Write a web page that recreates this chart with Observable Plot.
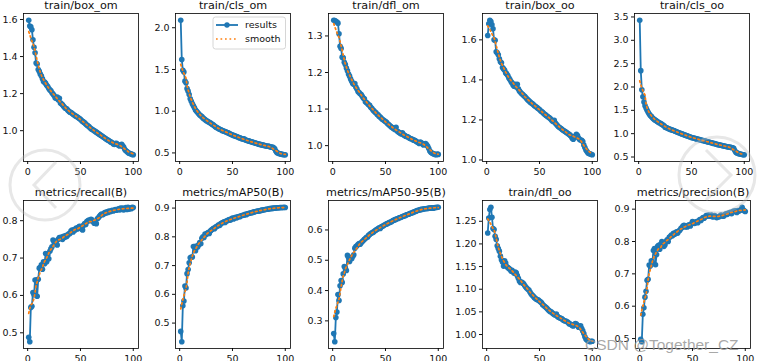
<!DOCTYPE html>
<html>
<head>
<meta charset="utf-8">
<script src="https://cdn.jsdelivr.net/npm/d3@7"></script>
<script src="https://cdn.jsdelivr.net/npm/@observablehq/plot@0.6"></script>
<style>
  html, body { margin: 0; padding: 0; background: #fff; overflow: hidden; }
  #fig { position: relative; width: 757px; height: 361px; overflow: hidden; background: #fff; }
  #fig > svg, #fig > div { position: absolute; }
</style>
</head>
<body>
<div id="fig"></div>
<script>
// ---------- data ----------
const epochs = d3.range(1, 101);
const xTicks = [0, 50, 100];

const titles = ["train/box_om", "train/cls_om", "train/dfl_om", "train/box_oo", "train/cls_oo",
  "metrics/recall(B)", "metrics/mAP50(B)", "metrics/mAP50-95(B)", "train/dfl_oo", "metrics/precision(B)"];

const boxOm = [1.596,1.565,1.560,1.545,1.490,1.450,1.420,1.365,1.360,1.330,
1.320,1.305,1.295,1.280,1.265,1.262,1.255,1.245,1.238,1.228,
1.220,1.215,1.205,1.198,1.190,1.178,1.175,1.182,1.165,1.175,
1.150,1.145,1.140,1.132,1.125,1.120,1.118,1.110,1.105,1.100,
1.098,1.094,1.088,1.084,1.080,1.078,1.074,1.070,1.066,1.062,
1.055,1.050,1.046,1.042,1.036,1.030,1.026,1.022,1.016,1.010,
1.008,1.004,1.000,0.996,0.992,0.988,0.984,0.980,0.976,0.972,
0.968,0.964,0.960,0.956,0.952,0.950,0.946,0.942,0.938,0.935,
0.930,0.926,0.930,0.932,0.926,0.922,0.918,0.924,0.926,0.918,
0.910,0.898,0.892,0.888,0.882,0.878,0.876,0.874,0.872,0.870];

const clsOm = [2.09,1.62,1.49,1.47,1.36,1.34,1.27,1.24,1.20,1.15,
1.12,1.09,1.065,1.04,1.015,1.00,0.985,0.97,0.955,0.945,
0.935,0.92,0.91,0.90,0.888,0.882,0.873,0.868,0.86,0.85,
0.842,0.835,0.822,0.812,0.805,0.798,0.79,0.783,0.777,0.77,
0.765,0.76,0.755,0.75,0.745,0.74,0.733,0.727,0.721,0.715,
0.71,0.705,0.70,0.695,0.69,0.685,0.68,0.675,0.67,0.665,
0.668,0.658,0.652,0.648,0.645,0.641,0.637,0.633,0.629,0.625,
0.621,0.617,0.613,0.609,0.605,0.602,0.599,0.596,0.593,0.59,
0.587,0.584,0.58,0.582,0.576,0.573,0.568,0.57,0.562,0.55,
0.522,0.505,0.498,0.493,0.489,0.486,0.483,0.481,0.479,0.478];

const dflOm = [1.343,1.342,1.340,1.338,1.335,1.306,1.272,1.266,1.242,1.240,
1.228,1.222,1.212,1.205,1.196,1.190,1.182,1.176,1.170,1.168,
1.170,1.160,1.155,1.148,1.145,1.142,1.140,1.135,1.130,1.128,
1.120,1.118,1.115,1.112,1.110,1.105,1.102,1.098,1.095,1.092,
1.090,1.086,1.084,1.080,1.078,1.075,1.072,1.070,1.068,1.066,
1.064,1.060,1.058,1.055,1.052,1.050,1.048,1.046,1.044,1.050,
1.040,1.038,1.036,1.034,1.032,1.035,1.030,1.028,1.026,1.025,
1.024,1.022,1.020,1.019,1.018,1.016,1.015,1.014,1.012,1.010,
1.008,1.006,1.010,1.008,1.005,1.002,1.004,1.006,1.002,0.998,
0.992,0.985,0.982,0.980,0.978,0.977,0.976,0.975,0.977,0.976];

const boxOo = [1.622,1.680,1.698,1.692,1.675,1.655,1.600,1.598,1.540,1.535,
1.525,1.505,1.490,1.485,1.462,1.455,1.448,1.435,1.430,1.422,
1.410,1.402,1.392,1.385,1.375,1.368,1.378,1.365,1.378,1.355,
1.345,1.338,1.332,1.328,1.322,1.318,1.312,1.306,1.300,1.296,
1.290,1.286,1.282,1.278,1.272,1.268,1.264,1.260,1.256,1.252,
1.246,1.242,1.238,1.232,1.228,1.224,1.220,1.216,1.212,1.208,
1.202,1.196,1.192,1.198,1.185,1.178,1.172,1.166,1.162,1.158,
1.155,1.150,1.146,1.143,1.140,1.136,1.132,1.128,1.124,1.118,
1.108,1.104,1.114,1.120,1.128,1.122,1.110,1.102,1.100,1.098,
1.092,1.075,1.062,1.050,1.042,1.035,1.032,1.030,1.028,1.026];

const clsOo = [3.43,2.35,1.94,1.79,1.68,1.60,1.55,1.50,1.46,1.42,
1.39,1.37,1.34,1.32,1.30,1.285,1.27,1.255,1.24,1.23,
1.215,1.20,1.185,1.17,1.14,1.132,1.12,1.112,1.10,1.092,
1.083,1.075,1.066,1.06,1.048,1.04,1.03,1.02,1.013,1.002,
0.995,0.985,0.978,0.968,0.96,0.952,0.945,0.935,0.928,0.918,
0.914,0.906,0.902,0.893,0.888,0.881,0.877,0.869,0.865,0.857,
0.853,0.846,0.84,0.835,0.827,0.823,0.815,0.81,0.803,0.798,
0.791,0.787,0.779,0.775,0.765,0.762,0.755,0.751,0.744,0.741,
0.734,0.731,0.724,0.721,0.714,0.712,0.707,0.704,0.697,0.686,
0.64,0.602,0.588,0.579,0.57,0.564,0.558,0.554,0.55,0.548];

const recall = [0.488,0.476,0.568,0.571,0.608,0.602,0.641,0.641,0.598,0.643,
0.673,0.675,0.682,0.670,0.690,0.685,0.712,0.690,0.708,0.698,
0.718,0.725,0.730,0.748,0.745,0.740,0.745,0.735,0.750,0.755,
0.752,0.756,0.750,0.758,0.755,0.760,0.758,0.762,0.765,0.766,
0.772,0.775,0.770,0.776,0.775,0.780,0.778,0.782,0.785,0.784,
0.778,0.775,0.788,0.792,0.790,0.798,0.800,0.802,0.800,0.804,
0.802,0.798,0.793,0.795,0.792,0.805,0.808,0.812,0.815,0.818,
0.816,0.818,0.822,0.820,0.824,0.822,0.826,0.824,0.826,0.828,
0.826,0.828,0.830,0.828,0.830,0.832,0.829,0.834,0.830,0.834,
0.829,0.832,0.835,0.830,0.836,0.831,0.834,0.832,0.836,0.835];

const map50 = [0.471,0.435,0.560,0.577,0.629,0.622,0.672,0.686,0.710,0.727,
0.730,0.730,0.766,0.766,0.752,0.768,0.765,0.772,0.780,0.776,
0.795,0.800,0.798,0.810,0.808,0.812,0.815,0.812,0.820,0.824,
0.826,0.830,0.828,0.834,0.836,0.838,0.842,0.840,0.846,0.848,
0.850,0.852,0.850,0.855,0.856,0.858,0.860,0.858,0.863,0.865,
0.862,0.866,0.868,0.866,0.870,0.871,0.870,0.873,0.874,0.875,
0.876,0.878,0.877,0.880,0.881,0.882,0.883,0.884,0.885,0.886,
0.887,0.888,0.889,0.890,0.890,0.891,0.892,0.893,0.893,0.894,
0.895,0.896,0.896,0.897,0.898,0.898,0.899,0.899,0.900,0.900,
0.900,0.901,0.901,0.901,0.902,0.902,0.902,0.902,0.903,0.902];

const map5095 = [0.258,0.231,0.311,0.329,0.387,0.367,0.416,0.433,0.427,0.455,
0.479,0.474,0.466,0.516,0.509,0.496,0.509,0.505,0.512,0.518,
0.540,0.545,0.548,0.552,0.555,0.553,0.558,0.562,0.565,0.569,
0.572,0.576,0.576,0.582,0.585,0.588,0.590,0.592,0.594,0.597,
0.600,0.602,0.604,0.607,0.605,0.610,0.612,0.614,0.616,0.618,
0.620,0.621,0.624,0.625,0.626,0.628,0.631,0.632,0.634,0.635,
0.637,0.638,0.640,0.641,0.642,0.644,0.645,0.647,0.648,0.650,
0.651,0.652,0.654,0.655,0.656,0.658,0.659,0.661,0.662,0.664,
0.665,0.666,0.667,0.668,0.668,0.669,0.670,0.670,0.671,0.671,
0.672,0.672,0.672,0.673,0.672,0.673,0.674,0.674,0.675,0.675];

const dflOo = [1.224,1.257,1.276,1.281,1.259,1.234,1.232,1.217,1.210,1.196,
1.190,1.184,1.173,1.165,1.160,1.151,1.163,1.158,1.150,1.148,
1.146,1.144,1.140,1.142,1.138,1.135,1.138,1.136,1.130,1.124,
1.118,1.115,1.116,1.114,1.112,1.108,1.105,1.102,1.100,1.098,
1.094,1.090,1.087,1.085,1.082,1.080,1.078,1.077,1.076,1.074,
1.072,1.070,1.066,1.064,1.062,1.060,1.058,1.055,1.053,1.051,
1.050,1.048,1.046,1.044,1.043,1.045,1.040,1.038,1.037,1.036,
1.035,1.033,1.031,1.030,1.030,1.028,1.027,1.024,1.023,1.022,
1.020,1.019,1.022,1.024,1.023,1.020,1.016,1.018,1.019,1.013,
1.008,1.002,0.995,0.990,0.988,0.986,0.985,0.984,0.985,0.985];

const precision = [0.498,0.490,0.575,0.595,0.628,0.646,0.680,0.683,0.727,0.724,
0.740,0.736,0.772,0.778,0.728,0.760,0.785,0.788,0.776,0.792,
0.800,0.796,0.785,0.790,0.800,0.805,0.800,0.813,0.815,0.820,
0.818,0.825,0.822,0.828,0.830,0.826,0.832,0.835,0.840,0.843,
0.848,0.850,0.845,0.848,0.845,0.850,0.852,0.848,0.855,0.862,
0.858,0.856,0.860,0.862,0.858,0.864,0.868,0.865,0.870,0.874,
0.872,0.876,0.880,0.878,0.882,0.880,0.878,0.882,0.876,0.877,
0.880,0.876,0.874,0.876,0.876,0.879,0.882,0.880,0.878,0.880,
0.884,0.886,0.884,0.888,0.888,0.890,0.886,0.892,0.894,0.893,
0.895,0.890,0.896,0.894,0.896,0.899,0.906,0.898,0.895,0.893];

const series = [boxOm, clsOm, dflOm, boxOo, clsOo, recall, map50, map5095, dflOo, precision];

const yTicks = [
  [1.0, 1.2, 1.4, 1.6],
  [0.5, 1.0, 1.5, 2.0],
  [1.0, 1.1, 1.2, 1.3],
  [1.0, 1.2, 1.4, 1.6],
  [0.5, 1.0, 1.5, 2.0, 2.5, 3.0, 3.5],
  [0.5, 0.6, 0.7, 0.8],
  [0.5, 0.6, 0.7, 0.8, 0.9],
  [0.3, 0.4, 0.5, 0.6],
  [1.00, 1.05, 1.10, 1.15, 1.20, 1.25],
  [0.5, 0.6, 0.7, 0.8, 0.9]
];
const yDecimals = [1, 1, 1, 1, 1, 1, 1, 1, 2, 1];

// ---------- layout ----------
const frameLeft = [23, 175, 328, 482, 634, 23, 175, 328, 482, 635];
const frameTop = [13, 13, 13, 13, 13, 200, 200, 200, 200, 200];
const FW = 115, FH = 148;
const ML = 34, MR = 4, MT = 22, MB = 24;
const BLUE = "#1f77b4", ORANGE = "#ff7f0e";

const fig = document.getElementById("fig");

series.forEach((vals, i) => {
  const data = epochs.map((e, j) => ({epoch: e, value: vals[j]}));
  const [lo, hi] = d3.extent(vals);
  const pad = (hi - lo) * 0.05;
  const fmt = d3.format("." + yDecimals[i] + "f");
  const plot = Plot.plot({
    width: FW + ML + MR,
    height: FH + MT + MB,
    marginLeft: ML, marginRight: MR, marginTop: MT, marginBottom: MB,
    style: {fontFamily: "DejaVu Sans", fontSize: "9.5px", color: "#111", background: "transparent", overflow: "visible"},
    x: {domain: [-3.95, 104.95], ticks: xTicks, tickFormat: d3.format("d"), tickSize: 3, tickPadding: 3.5, label: null},
    y: {domain: [lo - pad, hi + pad], ticks: yTicks[i], tickFormat: fmt, tickSize: 3, tickPadding: 3, label: null},
    marks: [
      Plot.lineY(data, {x: "epoch", y: "value", stroke: BLUE, strokeWidth: 1.8}),
      Plot.dot(data, {x: "epoch", y: "value", r: 2.8, fill: BLUE, stroke: "none"}),
      Plot.lineY(data, Plot.windowY({k: 11, reduce: "mean"}, {x: "epoch", y: "value", stroke: ORANGE, strokeWidth: 1.7, strokeDasharray: "1.7,2.8"})),
      Plot.frame({stroke: "#000", strokeWidth: 0.8}),
      Plot.text([titles[i]], {frameAnchor: "top", lineAnchor: "middle", dy: -8.5, fontSize: 11.2, fill: "#111"})
    ]
  });
  plot.style.left = (frameLeft[i] - ML) + "px";
  plot.style.top = (frameTop[i] - MT) + "px";
  fig.appendChild(plot);
});

// ---------- legend (in train/cls_om panel) and watermark overlay ----------
const ns = "http://www.w3.org/2000/svg";
const ov = document.createElementNS(ns, "svg");
ov.setAttribute("width", 757);
ov.setAttribute("height", 361);
ov.style.left = "0px"; ov.style.top = "0px";
ov.innerHTML = `
  <g font-family="DejaVu Sans" font-size="9.5" fill="#111">
    <rect x="213" y="17" width="72.5" height="32" rx="2.5" fill="#fff" fill-opacity="0.8" stroke="#ccc" stroke-width="0.8"/>
    <line x1="216" x2="238" y1="25" y2="25" stroke="${BLUE}" stroke-width="1.8"/>
    <circle cx="227" cy="25" r="2.7" fill="${BLUE}"/>
    <line x1="216" x2="238" y1="39" y2="39" stroke="${ORANGE}" stroke-width="1.7" stroke-dasharray="1.7,2.8"/>
    <text x="245" y="25" dy="0.35em">results</text>
    <text x="245" y="39" dy="0.35em">smooth</text>
  </g>
  <g fill="none" stroke="#bbb" stroke-opacity="0.35" stroke-width="3">
    <circle cx="45" cy="185" r="35"/>
    <polyline points="56,162 34,185 56,208"/>
    <circle cx="717" cy="175" r="38"/>
    <polyline points="706,150 731,175 706,200"/>
  </g>
  <text x="585" y="350" font-family="Liberation Sans" font-size="15.5" fill="#999" fill-opacity="0.85">CSDN @Together_CZ</text>
`;
fig.appendChild(ov);
</script>
</body>
</html>
